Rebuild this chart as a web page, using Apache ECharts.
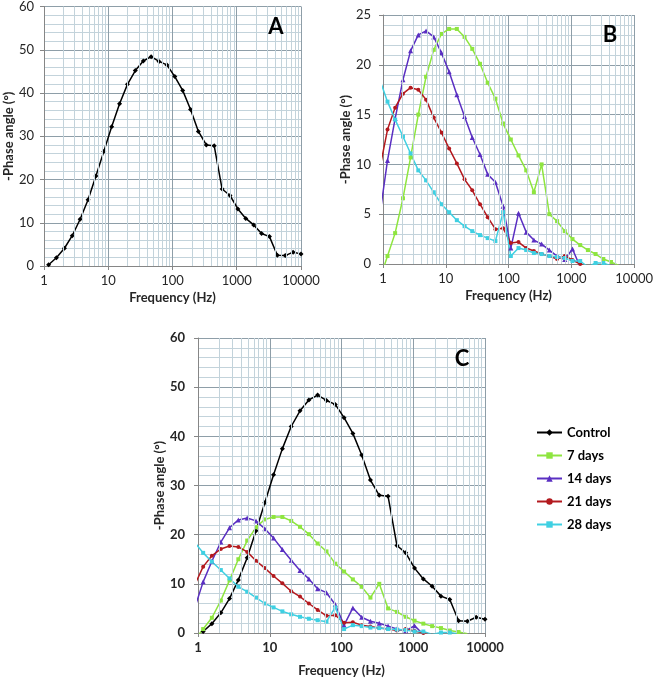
<!DOCTYPE html>
<html><head><meta charset="utf-8">
<script src="https://cdn.jsdelivr.net/npm/echarts@6/dist/echarts.min.js"></script>
<style>html,body{margin:0;padding:0;background:#fff}#c{width:656px;height:681px}</style>
</head><body><div id="c"></div>
<script>
// Frequencies (Hz)
const freq = [0.89, 1.18, 1.56, 2.08, 2.75, 3.65, 4.85, 6.43, 8.53, 11.3, 15.0, 19.9, 26.4, 35.1, 46.5, 61.7, 81.9, 108.6, 144, 191, 253, 336, 446, 592, 785, 1042, 1382, 1834, 2433, 3228, 4282, 5681, 7537, 10000];
// -Phase angle (deg)
const control = [null, 0.3, 1.9, 4.1, 7.0, 10.8, 15.3, 20.8, 26.5, 32.2, 37.5, 42.0, 45.2, 47.4, 48.4, 47.3, 46.5, 43.8, 40.6, 36.2, 31.1, 28.0, 27.8, 17.8, 16.3, 13.2, 11.0, 9.5, 7.5, 6.8, 2.5, 2.4, 3.2, 2.8];
const days7 = [-1.5, 0.8, 3.1, 6.6, 10.7, 15.0, 18.8, 21.5, 23.1, 23.6, 23.6, 22.8, 21.6, 20.1, 18.2, 16.6, 14.1, 12.5, 10.9, 9.4, 7.2, 10.0, 5.0, 4.3, 3.3, 2.5, 1.9, 1.4, 1.0, 0.5, 0.2, -0.15];
const days14 = [4.9, 10.4, 14.6, 18.5, 21.4, 23.0, 23.4, 22.8, 21.2, 19.3, 17.0, 14.8, 12.7, 11.0, 9.0, 8.2, 5.8, 1.6, 5.1, 3.2, 2.4, 2.0, 1.4, 0.8, 0.45, 1.5, -0.3];
const days21 = [9.6, 13.5, 15.7, 17.1, 17.7, 17.5, 16.5, 14.7, 13.2, 11.6, 10.1, 8.5, 7.4, 6.0, 4.7, 3.5, 3.6, 2.1, 2.2, 1.6, 1.3, 1.0, 0.8, 0.5, 0.8, 0.4, 0.0, -0.3];
const days28 = [18.5, 16.3, 14.5, 12.8, 11.1, 9.4, 8.4, 7.2, 6.0, 5.2, 4.4, 3.8, 3.3, 2.9, 2.6, 2.3, 5.2, 0.8, 1.6, 1.4, 1.1, 1.0, 0.8, 0.7, 0.6, 0.3, 0.3, -0.3, 0.1, 0.1, -0.2];
const seriesNames = ['Control', '7 days', '14 days', '21 days', '28 days'];
const xTickLabels = ['1', '10', '100', '1000', '10000'];
const panelLabels = ['A', 'B', 'C'];

const FONT = 'Lato, "Open Sans", sans-serif';
const MAJOR = '#8e9ea8', MINOR = '#c3d3db', AX = '#868686', TXT = '#262626';

function pairs(vals){ const out=[]; vals.forEach((v,i)=>{ if(v!==null && v!==undefined) out.push([freq[i], v]); }); return out; }

const minorX = [];
[1,10,100,1000].forEach(d=>{ for(let k=2;k<=9;k++) minorX.push(k*d); });

const grids = [
  {left:44, top:6, width:257, height:260},
  {left:383, top:15, width:256, height:249},
  {left:198, top:338, width:287, height:295}
];

function xAx(i, bold, nameGap){
  return {type:'log', logBase:10, min:1, max:10000, gridIndex:i,
    axisLine:{lineStyle:{color:AX}}, axisTick:{show:true, length:4, lineStyle:{color:AX}},
    axisLabel:{color:TXT, fontSize:13, fontFamily:FONT, fontWeight:bold?'bold':'normal', margin:8,
      formatter:(v)=>{ const e=Math.round(Math.log10(v)); return xTickLabels[e] || ''; }},
    splitLine:{show:true, lineStyle:{color:MAJOR, width:1}},
    name:'Frequency (Hz)', nameLocation:'middle', nameGap:nameGap,
    nameTextStyle:{fontWeight:'bold', fontSize:13, color:TXT, fontFamily:FONT}};
}
function yAx(i, max, interval, bold, nameGap, margin){
  return {type:'value', gridIndex:i, min:0, max:max, interval:interval,
    axisLine:{show:true, lineStyle:{color:AX}}, axisTick:{show:true, length:4, lineStyle:{color:AX}},
    axisLabel:{color:TXT, fontSize:13, fontFamily:FONT, fontWeight:bold?'bold':'normal', margin:margin},
    splitLine:{show:true, lineStyle:{color:MAJOR, width:1}},
    minorTick:{show:false, splitNumber:5},
    minorSplitLine:{show:true, lineStyle:{color:MINOR, width:1}},
    name:'-Phase angle (°)', nameLocation:'middle', nameGap:nameGap,
    nameTextStyle:{fontWeight:'bold', fontSize:13, color:TXT, fontFamily:FONT}};
}

const styles = {
  'Control': {color:'#000000', symbol:'diamond', size:5},
  '7 days': {color:'#8ee53f', symbol:'rect', size:4},
  '14 days': {color:'#5a2fc2', symbol:'triangle', size:5},
  '21 days': {color:'#b3191e', symbol:'circle', size:4},
  '28 days': {color:'#3fd0e2', symbol:'rect', size:4}
};
const dataMap = {'Control':control, '7 days':days7, '14 days':days14, '21 days':days21, '28 days':days28};

function mkSeries(name, gi){
  const s = styles[name];
  return {type:'line', name:name, xAxisIndex:gi, yAxisIndex:gi, data:pairs(dataMap[name]),
    symbol:s.symbol, symbolSize:s.size, showSymbol:true, clip:true, z:3,
    lineStyle:{color:s.color, width:1.5}, itemStyle:{color:s.color}, animation:false};
}
function gridMinor(gi){
  return {type:'line', name:'_minor'+gi, xAxisIndex:gi, yAxisIndex:gi, data:[], silent:true, z:1, animation:false,
    markLine:{silent:true, symbol:['none','none'], label:{show:false}, animation:false,
      lineStyle:{color:MINOR, type:'solid', width:1}, data:minorX.map(v=>({xAxis:v}))}};
}

const series = [gridMinor(0), gridMinor(1), gridMinor(2)];
series.push(mkSeries('Control', 0));
['7 days','14 days','21 days','28 days'].forEach(n=>series.push(mkSeries(n,1)));
seriesNames.forEach(n=>series.push(mkSeries(n,2)));

const letterPos = [[276,27],[610,35],[462,359]];
const option = {
  animation:false,
  backgroundColor:'#ffffff',
  grid: grids,
  xAxis: [xAx(0,false,25), xAx(1,false,25), xAx(2,true,31)],
  yAxis: [yAx(0,60,10,false,27,10), yAx(1,25,5,false,28,12), yAx(2,60,10,true,30,13)],
  legend: {orient:'vertical', left:531, top:421, itemWidth:25, itemHeight:8, itemGap:10,
    data:seriesNames, selectedMode:false,
    textStyle:{fontSize:13, fontWeight:'bold', fontFamily:FONT, color:'#000'}},
  graphic: panelLabels.map((t,i)=>({type:'text', x:letterPos[i][0], y:letterPos[i][1], z:10,
    style:{text:t, fontSize:22, fontWeight:'bold', fontFamily:FONT, fill:'#000', align:'center', verticalAlign:'middle'}})),
  series: series
};
const chart = echarts.init(document.getElementById('c'), null, {renderer:'canvas'});
chart.setOption(option);
</script></body></html>
